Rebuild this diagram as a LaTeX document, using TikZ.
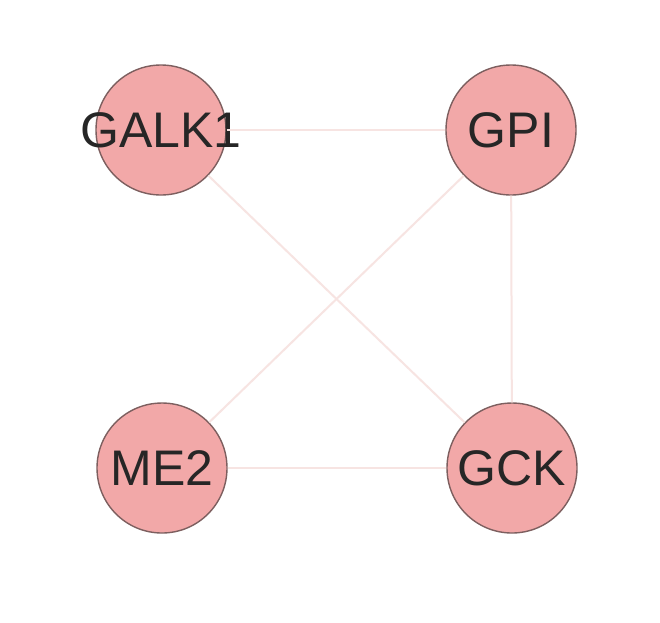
\documentclass[tikz,border=0pt]{standalone}
\usepackage{fontspec}
\setmainfont{Liberation Sans}
\definecolor{nodefill}{RGB}{242,168,168}
\definecolor{nodeline}{RGB}{125,95,95}
\definecolor{edgecol}{RGB}{247,228,226}
\begin{document}
\begin{tikzpicture}[x=1pt,y=-1pt,
  gene/.style={circle,draw=nodeline,line width=1.4pt,fill=nodefill,minimum size=130pt,inner sep=0pt,font=\fontsize{50}{50}\selectfont,text=black!85},
  edge/.style={draw=edgecol,line width=2pt}]
\useasboundingbox (0,0) rectangle (660,622);
\fill[white] (0,0) rectangle (660,622);
\node[gene] (GALK1) at (161,130) {\makebox[0pt]{GALK1}};
\node[gene] (GPI) at (511,130) {\makebox[0pt]{GPI}};
\node[gene] (ME2) at (162,468) {\makebox[0pt]{ME2}};
\node[gene] (GCK) at (512,468) {\makebox[0pt]{GCK}};
\path[edge] (GALK1) -- (GPI);
\path[edge] (GALK1) -- (GCK);
\path[edge] (GPI) -- (ME2);
\path[edge] (GPI) -- (GCK);
\path[edge] (ME2) -- (GCK);
\end{tikzpicture}
\end{document}
